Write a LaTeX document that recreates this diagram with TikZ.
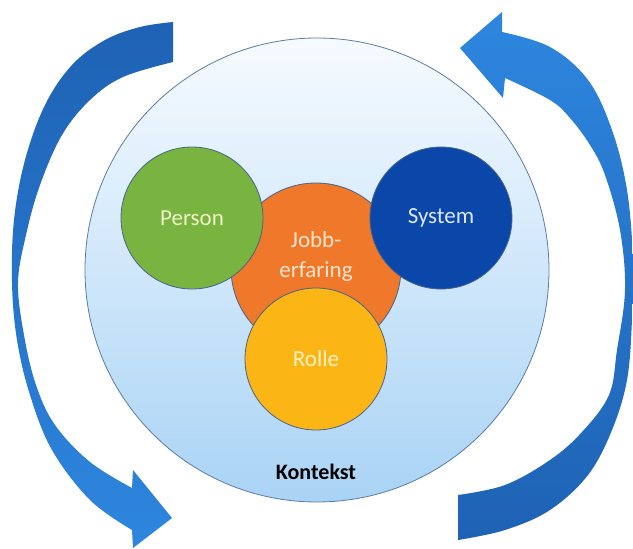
\documentclass[tikz,border=0pt]{standalone}
\usepackage{fontspec}
\setmainfont{Carlito}
\usetikzlibrary{shapes.geometric}
\definecolor{arrdark}{HTML}{1E62B4}
\definecolor{arrlight}{HTML}{2E86DE}
\definecolor{ctxtop}{HTML}{F6FBFF}
\definecolor{ctxbot}{HTML}{A9D3F5}
\definecolor{ctxline}{HTML}{5A7BA6}
\definecolor{cline}{HTML}{45648C}
\definecolor{pgreen}{HTML}{7AB440}
\definecolor{sblue}{HTML}{0B47A8}
\definecolor{jorange}{HTML}{F0782A}
\definecolor{ramber}{HTML}{FBB515}
\definecolor{ptext}{HTML}{EEF5C8}
\definecolor{stext}{HTML}{DCE8FF}
\definecolor{jtext}{HTML}{FDE4CC}
\definecolor{rtext}{HTML}{FFF1C4}
\tikzset{
  ball/.style={circle, draw=cline, line width=0.8pt, minimum size=142pt, inner sep=0pt},
  balltext/.style={font=\fontsize{23pt}{30pt}\selectfont, align=center, inner sep=0pt},
}
\begin{document}
\begin{tikzpicture}[x=1pt,y=-1pt]
\fill[white] (0,0) rectangle (633,549);
\useasboundingbox (0,0) rectangle (633,549);
% left circular arrow
\shade[top color=arrdark, bottom color=arrlight]
  plot[smooth, tension=0.6] coordinates {(173,22) (140,27) (105,40) (72,65) (45,105) (25,160) (14,220) (12,283) (17,340) (30,395) (52,450) (90,500) (132,530)}
  -- (133,548) -- (172,518) -- (133,470)
  -- plot[smooth, tension=0.6] coordinates {(132,488) (90,462) (55,425) (36,385) (24,335) (18,283) (26,235) (40,185) (62,135) (90,100) (123,77) (173,62)}
  -- cycle;
% right circular arrow
\shade[top color=arrlight, bottom color=arrdark]
  plot[smooth, tension=0.6] coordinates {(458,540) (505,530) (550,510) (588,475) (612,430) (627,380) (632,320) (633,260) (627,190) (612,130) (588,80) (550,47) (502,32)}
  -- (502,12) -- (460,48) -- (503,98)
  -- plot[smooth, tension=0.6] coordinates {(505,78) (550,100) (570,118) (590,145) (605,175) (620,230) (625,290) (617,350) (609,395) (582,432) (550,460) (505,485) (458,495)}
  -- cycle;
% context circle
\node[circle, minimum size=464pt, inner sep=0pt, draw=ctxline, line width=0.8pt,
      top color=ctxtop, bottom color=ctxbot] (ctx) at (317,270) {};
% inner circles
\node[ball, fill=jorange, minimum size=170pt] (job) at (316,268) {};
\node[balltext, text=jtext] (jobt) at (316,256) {Jobb-\\erfaring};
\node[ball, fill=pgreen] (person) at (192,218) {};
\node[balltext, text=ptext] at (person.center) {Person};
\node[ball, fill=sblue] (system) at (441,218) {};
\node[balltext, text=stext] at (system.center) {System};
\node[ball, fill=ramber] (rolle) at (316,359) {};
\node[balltext, text=rtext] at (rolle.center) {Rolle};
\node[font=\fontsize{22pt}{26pt}\selectfont\bfseries, text=black] (kontekst) at (316,472) {Kontekst};
\end{tikzpicture}
\end{document}
